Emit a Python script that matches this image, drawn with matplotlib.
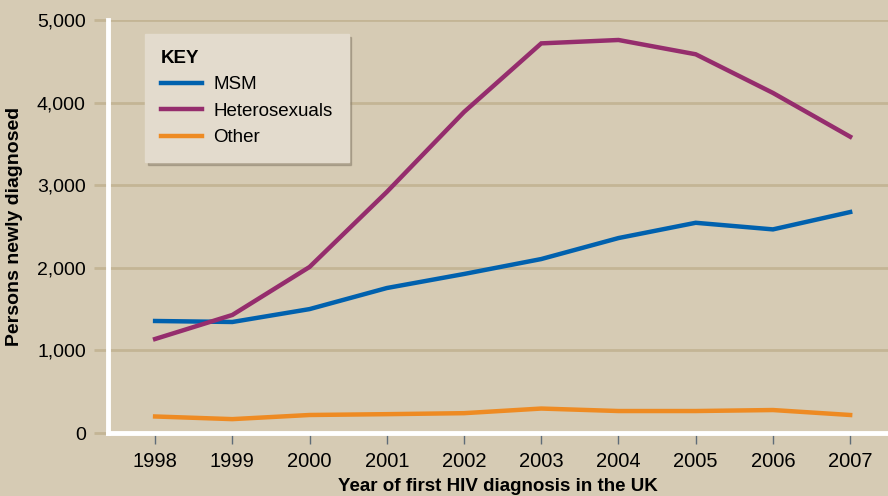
import matplotlib.pyplot as plt

years = [1998, 1999, 2000, 2001, 2002, 2003, 2004, 2005, 2006, 2007]
msm = [1356, 1344, 1500, 1755, 1925, 2106, 2360, 2545, 2465, 2675]
hetero = [1138, 1429, 2010, 2918, 3886, 4717, 4758, 4585, 4117, 3587]
other = [200, 168, 218, 228, 240, 296, 266, 266, 278, 218]
yticks = [0, 1000, 2000, 3000, 4000, 5000]
ytick_labels = ['0', '1,000', '2,000', '3,000', '4,000', '5,000']

bg = '#d6cbb4'
grid_c = '#c4b595'
plt.rcParams['font.family'] = ['Liberation Sans', 'DejaVu Sans']

fig = plt.figure(figsize=(8.88, 4.96), dpi=100, facecolor=bg)
ax = fig.add_axes([108 / 888, 1 - 433 / 496, 780 / 888, 413 / 496])
ax.set_facecolor(bg)

ax.plot(years, msm, color='#0061ae', lw=3.2, label='MSM', solid_joinstyle='miter', zorder=3)
ax.plot(years, hetero, color='#952d6d', lw=3.2, label='Heterosexuals', solid_joinstyle='miter', zorder=3)
ax.plot(years, other, color='#ee8b23', lw=3.2, label='Other', solid_joinstyle='miter', zorder=3)

ax.set_xlim(1997.39, 2007.49)
ax.set_ylim(0, 5000)
ax.set_xticks(years)
ax.set_xticklabels([str(y) for y in years], fontsize=14.5)
ax.set_yticks(yticks)
ax.set_yticklabels(ytick_labels, fontsize=14)
ax.tick_params(axis='x', direction='out', length=8, width=1, color='#5f6c78', pad=6)
ax.tick_params(axis='y', direction='out', length=10, width=2, color=grid_c, pad=6)

for v in yticks[1:]:
    ax.axhline(v, color=grid_c, lw=2, zorder=1)

for s in ['top', 'right']:
    ax.spines[s].set_visible(False)
for s in ['left', 'bottom']:
    ax.spines[s].set_color('white')
    ax.spines[s].set_linewidth(3.5)
    ax.spines[s].set_zorder(4)

ax.set_ylabel('Persons newly diagnosed', fontsize=14, fontweight='bold', labelpad=10)
ax.set_xlabel('Year of first HIV diagnosis in the UK', fontsize=13.5, fontweight='bold', labelpad=5)

leg = ax.legend(loc='upper left', bbox_to_anchor=(37 / 780, 1 - 14 / 413), title='KEY',
                fontsize=13.5, frameon=True, fancybox=False, shadow={'color': '#8a7f6c', 'alpha': 0.5},
                handlelength=2.2, handletextpad=0.6, borderpad=0.85, labelspacing=0.5,
                alignment='left', borderaxespad=0)
leg.get_title().set_fontweight('bold')
leg.get_title().set_fontsize(13.5)
frame = leg.get_frame()
frame.set_facecolor('#e3dbcd')
frame.set_edgecolor('#e3dbcd')
frame.set_alpha(1)
leg.set_zorder(5)

fig.savefig('out.png', dpi=100, facecolor=bg)
